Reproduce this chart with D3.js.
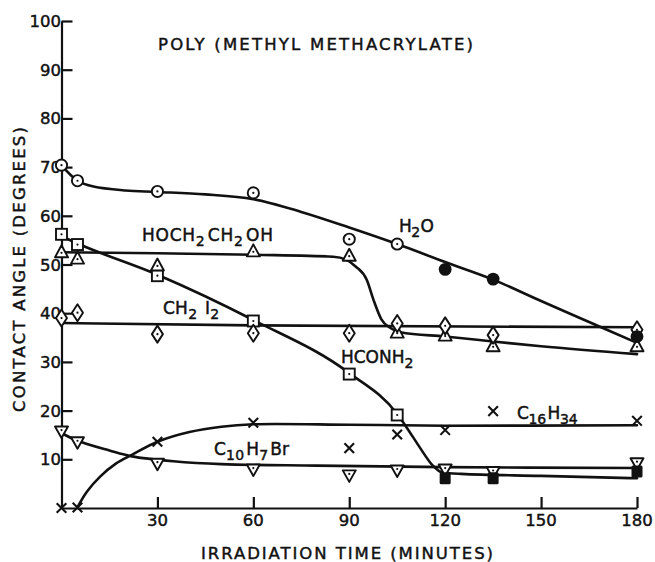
<!DOCTYPE html>
<html>
<head>
<meta charset="utf-8">
<script src="https://cdn.jsdelivr.net/npm/d3@7"></script>
<style>
  html, body { margin: 0; padding: 0; background: #fff; }
  svg { display: block; }
  text { font-family: "DejaVu Sans", sans-serif; fill: #111; stroke: #111; stroke-width: 0.45px; }
</style>
</head>
<body>
<svg id="chart" width="655" height="562"></svg>
<script>
// Contact angle of liquids on irradiated poly(methyl methacrylate)

// Measured points: irradiation time (min) and contact angle (deg)
const times = [0, 5, 30, 60, 90, 105, 120, 135, 180];

const h2oOpenTimes = [0, 5, 30, 60, 90, 105];
const h2oOpen = [70.4, 67.2, 65.0, 64.7, 55.2, 54.2];
const h2oFilledTimes = [120, 135, 180];
const h2oFilled = [49.0, 47.0, 35.2];

const glycol = [52.4, 51.1, 49.7, 52.6, 51.7, 35.9, 35.3, 33.1, 33.1];
const diiodomethane = [39.0, 40.1, 35.7, 35.9, 35.9, 37.9, 37.4, 35.5, 36.6];

const formamideOpenTimes = [0, 5, 30, 60, 90, 105];
const formamideOpen = [56.2, 54.1, 47.7, 38.4, 27.5, 19.1];
const formamideFilledTimes = [120, 135, 180];
const formamideFilled = [6.1, 6.1, 7.5];

const hexadecane = [0.0, 0.1, 13.6, 17.5, 12.3, 15.1, 16.0, 19.9, 17.9];
const bromonaphthalene = [15.8, 13.6, 9.2, 8.0, 6.8, 7.8, 8.0, 7.5, 9.3];

// Hand-fitted trend curves: [time, angle]
const h2oCurve = [[0,70.4],[5,67.2],[10,66.0],[20,65.2],[30,64.9],[45,64.4],[60,63.4],[75,60.8],[90,57.6],[105,54.2],[120,50.5],[135,46.9],[150,42.5],[165,38.2],[180,33.9]];
const glycolCurve = [[0,52.5],[30,52.3],[60,52.0],[85,51.6],[89,51.0],[92,49.6],[95.5,46.8],[97.5,42.9],[100,38.8],[103,36.9],[106,36.1],[120,35.2],[135,34.2],[150,33.2],[180,31.6]];
const diiodomethaneCurve = [[0,38.0],[60,37.5],[180,37.1]];
const formamideCurve = [[0,55.8],[5,54.3],[30,47.9],[60,38.6],[90,27.7],[105,19.3],[108,16.5],[112,12.5],[116,8.8],[119,7.3],[125,7.0],[150,6.6],[180,6.1]];
const hexadecaneCurve = [[5,0.2],[8,3.4],[12,6.4],[17,9.1],[22,10.9],[30,13.6],[40,15.6],[50,16.7],[60,17.2],[90,17.1],[120,16.9],[180,17.0]];
const bromonaphthaleneCurve = [[0,15.4],[5,13.8],[15,11.8],[22,10.6],[35,9.6],[50,9.0],[80,8.7],[120,8.4],[180,8.2]];

const xTicks = [30, 60, 90, 120, 150, 180];
const yTicks = [10, 20, 30, 40, 50, 60, 70, 80, 90, 100];

const title = "POLY (METHYL METHACRYLATE)";
const xTitle = "IRRADIATION TIME (MINUTES)";
const yTitle = "CONTACT ANGLE (DEGREES)";

const svg = d3.select("#chart");
const ink = "#111";

const x = d3.scaleLinear().domain([0, 180]).range([61.5, 637]);
const y = d3.scaleLinear().domain([0, 100]).range([508, 21]);

// Axes with inward ticks
const xAxis = svg.append("g").attr("transform", `translate(0,${y(0)})`)
  .call(d3.axisTop(x).tickValues(xTicks).tickSize(11).tickSizeOuter(0).tickFormat(""));
const yAxis = svg.append("g").attr("transform", `translate(${x(0)},0)`)
  .call(d3.axisRight(y).tickValues(yTicks).tickSize(11).tickSizeOuter(0).tickFormat(""));
[xAxis, yAxis].forEach(a => {
  a.selectAll("path, line").attr("stroke", ink).attr("stroke-width", 2.2);
});

svg.append("g").selectAll("text").data(xTicks).join("text")
  .attr("x", d => x(d)).attr("y", 525.5)
  .attr("text-anchor", "middle").attr("font-size", 16.5).text(d => d);
svg.append("g").selectAll("text").data(yTicks).join("text")
  .attr("x", 61).attr("y", d => y(d) + 6)
  .attr("text-anchor", "end").attr("font-size", 16.5).text(d => d);

svg.append("text").attr("x", 158).attr("y", 50).attr("font-size", 16.5)
  .attr("textLength", 315).attr("lengthAdjust", "spacing").text(title);
svg.append("text").attr("x", 201).attr("y", 559).attr("font-size", 16.5)
  .attr("textLength", 292).attr("lengthAdjust", "spacing").text(xTitle);
svg.append("text").attr("transform", "translate(24.5,412) rotate(-90)")
  .attr("font-size", 16.5).attr("textLength", 285).attr("lengthAdjust", "spacing").text(yTitle);

// Trend curves
const smooth = d3.line().x(d => x(d[0])).y(d => y(d[1])).curve(d3.curveCatmullRom.alpha(0.5));
const monotone = d3.line().x(d => x(d[0])).y(d => y(d[1])).curve(d3.curveMonotoneX);
[[h2oCurve, smooth], [glycolCurve, monotone], [diiodomethaneCurve, monotone],
 [formamideCurve, monotone], [hexadecaneCurve, smooth], [bromonaphthaleneCurve, smooth]]
  .forEach(([c, gen]) => {
    svg.append("path").attr("d", gen(c)).attr("fill", "none")
      .attr("stroke", ink).attr("stroke-width", 2.6).attr("stroke-linecap", "round");
  });

// Marker drawing helpers
const zip = (ts, vs) => ts.map((t, i) => [t, vs[i]]);
const g = svg.append("g");
function dot(cx, cy) {
  g.append("circle").attr("cx", cx).attr("cy", cy).attr("r", 1.1).attr("fill", ink);
}
function openCircle(pts) {
  pts.forEach(([t, v]) => {
    g.append("circle").attr("cx", x(t)).attr("cy", y(v)).attr("r", 5.6)
      .attr("fill", "#fff").attr("stroke", ink).attr("stroke-width", 1.9);
    dot(x(t), y(v));
  });
}
function filledCircle(pts) {
  pts.forEach(([t, v]) => {
    g.append("circle").attr("cx", x(t)).attr("cy", y(v)).attr("r", 6.4).attr("fill", ink);
  });
}
function triUp(pts) {
  pts.forEach(([t, v]) => {
    const cx = x(t), cy = y(v);
    g.append("path").attr("d", `M${cx},${cy - 7.5}L${cx + 6.5},${cy + 4.5}L${cx - 6.5},${cy + 4.5}Z`)
      .attr("fill", "#fff").attr("stroke", ink).attr("stroke-width", 1.9).attr("stroke-linejoin", "round");
    dot(cx, cy);
  });
}
function triDown(pts) {
  pts.forEach(([t, v]) => {
    const cx = x(t), cy = y(v);
    g.append("path").attr("d", `M${cx},${cy + 7}L${cx + 6.5},${cy - 4.5}L${cx - 6.5},${cy - 4.5}Z`)
      .attr("fill", "#fff").attr("stroke", ink).attr("stroke-width", 1.9).attr("stroke-linejoin", "round");
    dot(cx, cy - 1);
  });
}
function diamond(pts) {
  pts.forEach(([t, v]) => {
    const cx = x(t), cy = y(v);
    g.append("path").attr("d", `M${cx},${cy - 8.5}L${cx + 5.5},${cy}L${cx},${cy + 8.5}L${cx - 5.5},${cy}Z`)
      .attr("fill", "#fff").attr("stroke", ink).attr("stroke-width", 1.9).attr("stroke-linejoin", "round");
    dot(cx, cy);
  });
}
function openSquare(pts) {
  pts.forEach(([t, v]) => {
    const cx = x(t), cy = y(v);
    g.append("rect").attr("x", cx - 5.5).attr("y", cy - 5.5).attr("width", 11).attr("height", 11)
      .attr("fill", "#fff").attr("stroke", ink).attr("stroke-width", 1.9);
    dot(cx, cy);
  });
}
function filledSquare(pts) {
  pts.forEach(([t, v]) => {
    const cx = x(t), cy = y(v);
    g.append("rect").attr("x", cx - 5.5).attr("y", cy - 6).attr("width", 11).attr("height", 12)
      .attr("rx", 1.5).attr("fill", ink);
  });
}
function cross(pts) {
  pts.forEach(([t, v]) => {
    const cx = x(t), cy = y(v), s = 4.8;
    g.append("path").attr("d", `M${cx - s},${cy - s}L${cx + s},${cy + s}M${cx - s},${cy + s}L${cx + s},${cy - s}`)
      .attr("stroke", ink).attr("stroke-width", 2.1).attr("fill", "none");
  });
}

openSquare(zip(formamideOpenTimes, formamideOpen));
triUp(zip(times, glycol));
diamond(zip(times, diiodomethane));
openCircle(zip(h2oOpenTimes, h2oOpen));
filledCircle(zip(h2oFilledTimes, h2oFilled));
triDown(zip(times, bromonaphthalene));
filledSquare(zip(formamideFilledTimes, formamideFilled));
cross(zip(times, hexadecane));

// Curve labels with subscripts
function formula(px, py, width, parts) {
  const t = svg.append("text").attr("x", px).attr("y", py).attr("font-size", 17);
  parts.forEach(([s, sub]) => {
    if (sub) {
      t.append("tspan").attr("dy", 5).attr("font-size", 14).text(s);
      t.append("tspan").attr("dy", -5).text("\u200A");
    } else {
      t.append("tspan").text(s);
    }
  });
  t.attr("textLength", width).attr("lengthAdjust", "spacing");
  return t;
}
formula(399, 232, 35, [["H"], ["2", 1], ["O"]]);
formula(142, 241, 131, [["HOCH"], ["2", 1], ["CH"], ["2", 1], ["OH"]]);
formula(163, 314, 58, [["CH"], ["2", 1], [" I"], ["2", 1]]);
formula(341, 363, 74, [["HCONH"], ["2", 1]]);
formula(517, 419, 62, [["C"], ["16", 1], ["H"], ["34", 1]]);
formula(214, 455, 75, [["C"], ["10", 1], ["H"], ["7", 1], ["Br"]]);
</script>
</body>
</html>
